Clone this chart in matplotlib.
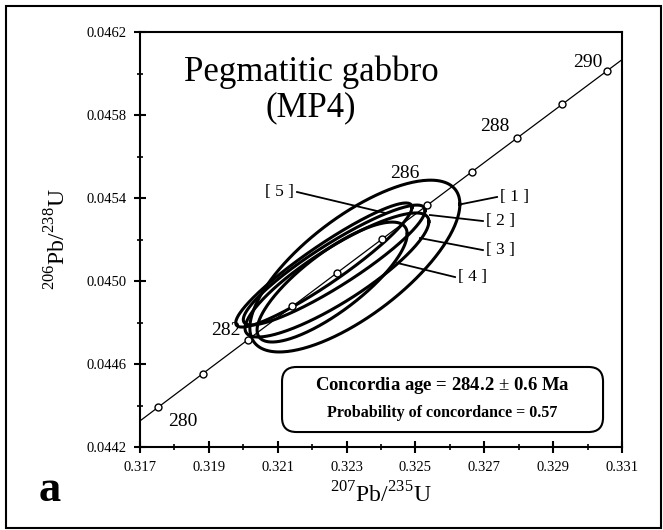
import numpy as np
import matplotlib.pyplot as plt
from matplotlib.patches import FancyBboxPatch, Rectangle

plt.rcParams['font.family'] = 'Liberation Serif'
plt.rcParams['mathtext.fontset'] = 'custom'
plt.rcParams['mathtext.rm'] = 'Liberation Serif'
plt.rcParams['mathtext.bf'] = 'Liberation Serif:bold'

# decay constants (1/yr)
l238 = 1.55125e-10
l235 = 9.8485e-10

marker_ages = [280, 281, 282, 283, 284, 285, 286, 287, 288, 289, 290]
label_ages = [280, 282, 286, 288, 290]
label_offsets = [(18, -10), (-16, 7), (-16, 23), (-16, 8), (-14, 6)]

# analyses: 207Pb/235U, 206Pb/238U, 2-sigma half widths, error correlation
spot_ids = ['1', '2', '3', '4', '5']
spot_x = [0.32324, 0.32264, 0.32272, 0.32258, 0.32234]
spot_y = [0.045072, 0.045077, 0.045029, 0.044995, 0.045077]
err_x = [0.00305, 0.00264, 0.00267, 0.00218, 0.00256]
err_y = [0.000414, 0.000289, 0.000299, 0.000289, 0.000299]
rho = [0.72, 0.91, 0.86, 0.80, 0.93]

# leader lines (start on ellipse, end at label) and label anchors
lead_start = [(0.32635, 0.045371), (0.32542, 0.045318), (0.32513, 0.045207),
              (0.32447, 0.045087), (0.32412, 0.045328)]
lead_end = [(0.32737, 0.045405), (0.32696, 0.045289), (0.32696, 0.045149),
            (0.32615, 0.045019), (0.32156, 0.045429)]

age_text = 'Concordia age = 284.2 $\\pm$ 0.6 Ma'
prob_text = 'Probability of concordance = 0.57'

fig = plt.figure(figsize=(6.63, 5.30), dpi=100)
ax = fig.add_axes([0.2112, 0.1566, 0.727, 0.783])

t = np.linspace(278, 292, 400) * 1e6
ax.plot(np.exp(l235 * t) - 1, np.exp(l238 * t) - 1, color='black', lw=0.9, zorder=2)

ma = np.array(marker_ages) * 1e6
mx = np.exp(l235 * ma) - 1
my = np.exp(l238 * ma) - 1
ax.plot(mx, my, 'o', ms=5, mfc='white', mec='black', mew=1.0, zorder=5)

for age, off in zip(label_ages, label_offsets):
    i = marker_ages.index(age)
    ax.annotate(str(age), (mx[i], my[i]), xytext=off, textcoords='offset points',
                ha='center', va='center', fontsize=14)

th = np.linspace(0, 2 * np.pi, 300)
for cx, cy, sx, sy, r in zip(spot_x, spot_y, err_x, err_y, rho):
    ex = cx + sx * np.cos(th)
    ey = cy + sy * (r * np.cos(th) + np.sqrt(1 - r ** 2) * np.sin(th))
    ax.plot(ex, ey, color='black', lw=2.2, zorder=3)

for sid, (x0, y0), (x1, y1) in zip(spot_ids, lead_start, lead_end):
    ax.plot([x0, x1], [y0, y1], color='black', lw=1.3, zorder=4)
    if x1 > x0:
        ax.text(x1 + 0.0001, y1, '[ ' + sid + ' ]', ha='left', va='center', fontsize=12.5)
    else:
        ax.text(x1 - 0.0001, y1, '[ ' + sid + ' ]', ha='right', va='center', fontsize=12.5)

ax.set_xlim(0.317, 0.331)
ax.set_ylim(0.0442, 0.0462)
ax.set_xticks(np.arange(0.317, 0.3311, 0.002))
ax.set_xticks(np.arange(0.318, 0.3311, 0.002), minor=True)
ax.set_yticks(np.arange(0.0442, 0.04621, 0.0004))
ax.set_yticks(np.arange(0.0444, 0.04621, 0.0004), minor=True)
ax.xaxis.set_major_formatter(plt.FormatStrFormatter('%.3f'))
ax.yaxis.set_major_formatter(plt.FormatStrFormatter('%.4f'))
ax.tick_params(which='major', direction='inout', length=8, width=1.5, labelsize=10.5, pad=6)
ax.tick_params(which='minor', direction='inout', length=5, width=1.2)
ax.tick_params(top=False, right=False)
for s in ax.spines.values():
    s.set_linewidth(1.5)

ax.set_xlabel('$^{207}$Pb/$^{235}$U', fontsize=17, labelpad=6)
ax.set_ylabel('$^{206}$Pb/$^{238}$U', fontsize=17, labelpad=11)

ax.text(0.355, 0.86, 'Pegmatitic gabbro\n(MP4)', transform=ax.transAxes,
        ha='center', va='center', fontsize=25, linespacing=1.1)

box = FancyBboxPatch((0.2946, 0.0361), 0.666, 0.1567, transform=ax.transAxes,
                     boxstyle='round,pad=0,rounding_size=0.03', mutation_aspect=1.16,
                     fc='white', ec='black', lw=1.5, zorder=6)
ax.add_patch(box)
ax.text(0.627, 0.148, age_text, transform=ax.transAxes, ha='center', va='center',
        fontsize=13.5, fontweight='bold', zorder=7)
ax.text(0.627, 0.083, prob_text, transform=ax.transAxes, ha='center', va='center',
        fontsize=11.5, fontweight='bold', zorder=7)

fig.text(0.075, 0.075, 'a', fontsize=32, fontweight='bold', ha='center', va='center')
fig.patches.append(Rectangle((6 / 663, 2 / 530), 655 / 663, 522 / 530, transform=fig.transFigure,
                             fill=False, ec='black', lw=1.5))

fig.savefig('out.png', dpi=100)
